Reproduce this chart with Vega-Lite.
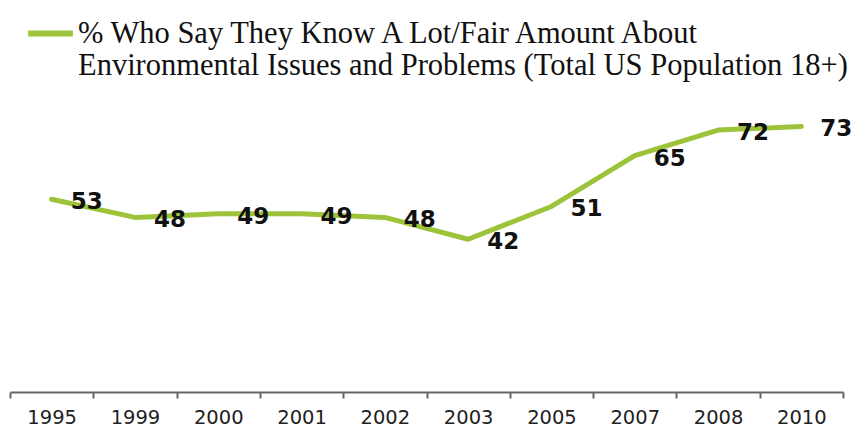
{
  "$schema": "https://vega.github.io/schema/vega-lite/v6.json",
  "autosize": {"type": "none"},
  "width": 833,
  "height": 291,
  "padding": {"left": 10, "top": 101, "right": 11, "bottom": 38},
  "background": "white",
  "data": {
    "values": [
      {"year": "1995", "value": 53},
      {"year": "1999", "value": 48},
      {"year": "2000", "value": 49},
      {"year": "2001", "value": 49},
      {"year": "2002", "value": 48},
      {"year": "2003", "value": 42},
      {"year": "2005", "value": 51},
      {"year": "2007", "value": 65},
      {"year": "2008", "value": 72},
      {"year": "2010", "value": 73}
    ]
  },
  "config": {"view": {"stroke": null}},
  "encoding": {
    "x": {
      "field": "year",
      "type": "ordinal",
      "sort": null,
      "scale": {"type": "band", "paddingInner": 0, "paddingOuter": 0},
      "axis": {
        "title": null,
        "labelAngle": 0,
        "labelFont": "DejaVu Sans",
        "labelFontSize": 19.5,
        "labelColor": "#222222",
        "labelPadding": 10,
        "domainColor": "#666666",
        "domainWidth": 2,
        "tickColor": "#666666",
        "tickWidth": 2,
        "tickSize": 6,
        "tickBand": "extent",
        "grid": false
      }
    },
    "y": {
      "field": "value",
      "type": "quantitative",
      "scale": {"domain": [0, 80], "nice": false, "zero": true},
      "axis": null
    }
  },
  "layer": [
    {
      "mark": {"type": "line", "strokeWidth": 5, "strokeCap": "round", "strokeJoin": "round"},
      "encoding": {
        "color": {
          "datum": "series",
          "scale": {"range": ["#9DC33B"]},
          "legend": {
            "orient": "none",
            "legendX": 15,
            "legendY": -93,
            "title": null,
            "symbolType": "stroke",
            "symbolStrokeWidth": 6,
            "symbolSize": 2000,
            "labelFont": "Liberation Serif",
            "labelFontSize": 30.5,
            "labelColor": "#111111",
            "labelLimit": 900,
            "labelOffset": 2,
            "labelBaseline": "middle",
            "labelExpr": "['% Who Say They Know A Lot/Fair Amount About', 'Environmental Issues and Problems (Total US Population 18+)']"
          }
        }
      }
    },
    {
      "mark": {"type": "text", "font": "DejaVu Sans", "fontWeight": "bold", "fontSize": 23, "dx": 35, "dy": 3, "color": "#111111", "align": "center", "baseline": "middle"},
      "encoding": {"text": {"field": "value", "type": "quantitative"}}
    }
  ]
}
